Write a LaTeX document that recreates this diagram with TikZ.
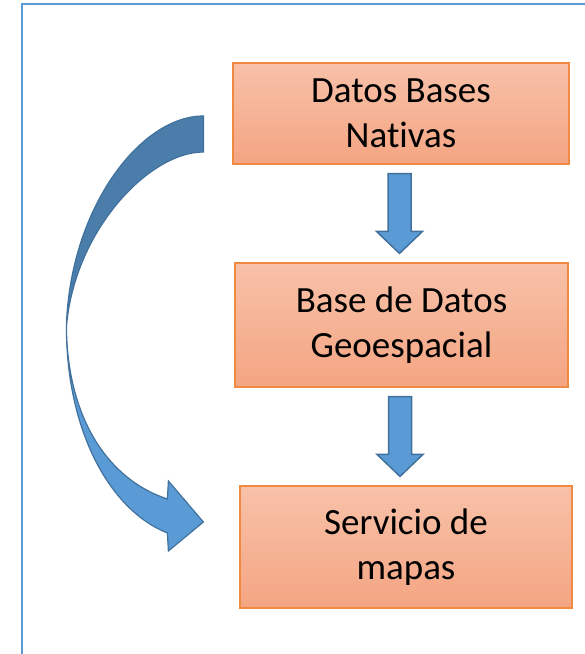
\documentclass[tikz,border=0pt]{standalone}
\usepackage{fontspec}
\setmainfont{Carlito}[Ligatures=NoCommon]
\usetikzlibrary{calc}
\usetikzlibrary{positioning}

\definecolor{boxtop}{HTML}{F8C1A9}
\definecolor{boxbot}{HTML}{F4A582}
\definecolor{boxline}{HTML}{F08A42}
\definecolor{arrfill}{HTML}{5B9BD5}
\definecolor{arrdark}{HTML}{4A7DAA}
\definecolor{arrline}{HTML}{41719C}

\tikzset{
	stepbox/.style={draw=boxline, line width=1.2pt, top color=boxtop, bottom color=boxbot,
		align=center, inner sep=0pt, font=\fontsize{37}{45}\selectfont},
	blockarrow/.style={fill=arrfill, draw=arrline, line width=1.5pt, line join=miter},
}

% flecha de bloque entre dos cajas
\newcommand{\flecha}[2]{
	\coordinate (ar) at ($(#1.south)+(-1.5,0)$);
	\coordinate (ab) at (ar |- #2.north);
	\draw[blockarrow] ($(ar)+(-11.5,9)$) -- ($(ar)+(11.5,9)$)
		-- ($(ab)+(11.5,-31)$) -- ($(ab)+(23,-31)$) -- ($(ab)+(0,-9)$)
		-- ($(ab)+(-23,-31)$) -- ($(ab)+(-11.5,-31)$) -- cycle;
}

\begin{document}
\begin{tikzpicture}[x=1pt, y=-1pt]
		\useasboundingbox (0,0) rectangle (585,654);
		\clip (0,0) rectangle (585,654);
		\draw[arrfill, line width=2.4pt] (22,4) rectangle (620,700);

		\node[stepbox, minimum width=336pt, minimum height=101pt] (nativas) at (401,113.5) {Datos Bases\\Nativas};
		\node[stepbox, minimum width=333pt, minimum height=124pt] (geo) at (401.5,325) {Base de Datos\\Geoespacial};
		\node[stepbox, minimum width=332pt, minimum height=122pt] (servicio) at (406,547) {Servicio de\\mapas};

		\flecha{nativas}{geo}
		\flecha{geo}{servicio}

		% flecha curva de nativas a servicio
		\coordinate (curvaini) at ($(nativas.west)+(-29,20.5)$);
		\begin{scope}[shift={(curvaini)}]
			\draw[fill=arrdark, draw=arrline, line width=1.2pt] (0,-18) .. controls (-64,-18) and (-134,76) .. (-137,193)
				.. controls (-129,96) and (-54,18) .. (0,18) -- cycle;
			\draw[fill=arrfill, draw=arrline, line width=1.2pt, line join=miter] (-137,193) .. controls (-137,296) and (-94,376) .. (-36,399)
				-- (-35,417) -- (0,388) -- (-35,347) -- (-36,365) .. controls (-94,346) and (-136,286) .. (-137,193) -- cycle;
		\end{scope}
	\end{tikzpicture}
\end{document}
